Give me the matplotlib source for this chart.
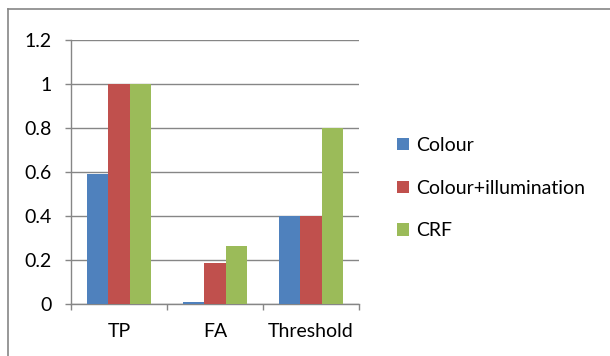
import matplotlib
matplotlib.use("Agg")
import matplotlib.pyplot as plt
from matplotlib.lines import Line2D
import numpy as np

# data
categories = ["TP", "FA", "Threshold"]
series_names = ["Colour", "Colour+illumination", "CRF"]
colour_vals = [0.59, 0.01, 0.40]
colour_illum_vals = [1.0, 0.185, 0.40]
crf_vals = [1.0, 0.265, 0.80]
yticks = [0, 0.2, 0.4, 0.6, 0.8, 1.0, 1.2]
ytick_labels = ["0", "0.2", "0.4", "0.6", "0.8", "1", "1.2"]

colors = ["#4F81BD", "#C0504D", "#9BBB59"]
grey = "#868686"
fs = 14

plt.rcParams["font.family"] = ["Lato", "DejaVu Sans"]

W, H = 610, 356
fig = plt.figure(figsize=(W / 100, H / 100), dpi=100)
ax = fig.add_axes([71 / W, 1 - 304 / H, (359 - 71) / W, (304 - 40) / H])

x = np.arange(len(categories))
bw = 0.222
for i, (vals, name) in enumerate(zip([colour_vals, colour_illum_vals, crf_vals], series_names)):
    ax.bar(x + (i - 1) * bw, vals, width=bw, color=colors[i], label=name, zorder=3)

ax.set_xlim(-0.5, len(categories) - 0.5)
ax.set_ylim(0, 1.2)
ax.set_yticks(yticks)
ax.set_yticklabels(ytick_labels)
ax.yaxis.grid(True, color=grey, linewidth=1.0, zorder=0)
ax.set_axisbelow(True)

# category labels between boundary ticks, like Excel
ax.set_xticks(np.arange(len(categories) + 1) - 0.5)
ax.set_xticklabels([])
ax.set_xticks(x, minor=True)
ax.set_xticklabels(categories, minor=True)
ax.tick_params(axis="x", which="minor", length=0, pad=14, labelsize=fs)
ax.tick_params(axis="x", which="major", length=4, color=grey, width=1)
ax.tick_params(axis="y", length=4, color=grey, width=1, labelsize=fs, pad=10)

for side in ["top", "right"]:
    ax.spines[side].set_visible(False)
for side in ["left", "bottom"]:
    ax.spines[side].set_color(grey)
    ax.spines[side].set_linewidth(1.0)

leg = fig.legend(loc="upper left", bbox_to_anchor=(397 / W, 1 - 137 / H), frameon=False,
                 fontsize=fs, handlelength=0.6, handleheight=0.6, handletextpad=0.4,
                 labelspacing=1.32, borderaxespad=0, borderpad=0)

# outer chart border (top and left visible)
fig.add_artist(Line2D([8 / W, 1], [1 - 9 / H, 1 - 9 / H], color=grey, linewidth=1.2))
fig.add_artist(Line2D([8 / W, 8 / W], [0, 1 - 9 / H], color=grey, linewidth=1.2))

fig.savefig("out.png", dpi=100)
